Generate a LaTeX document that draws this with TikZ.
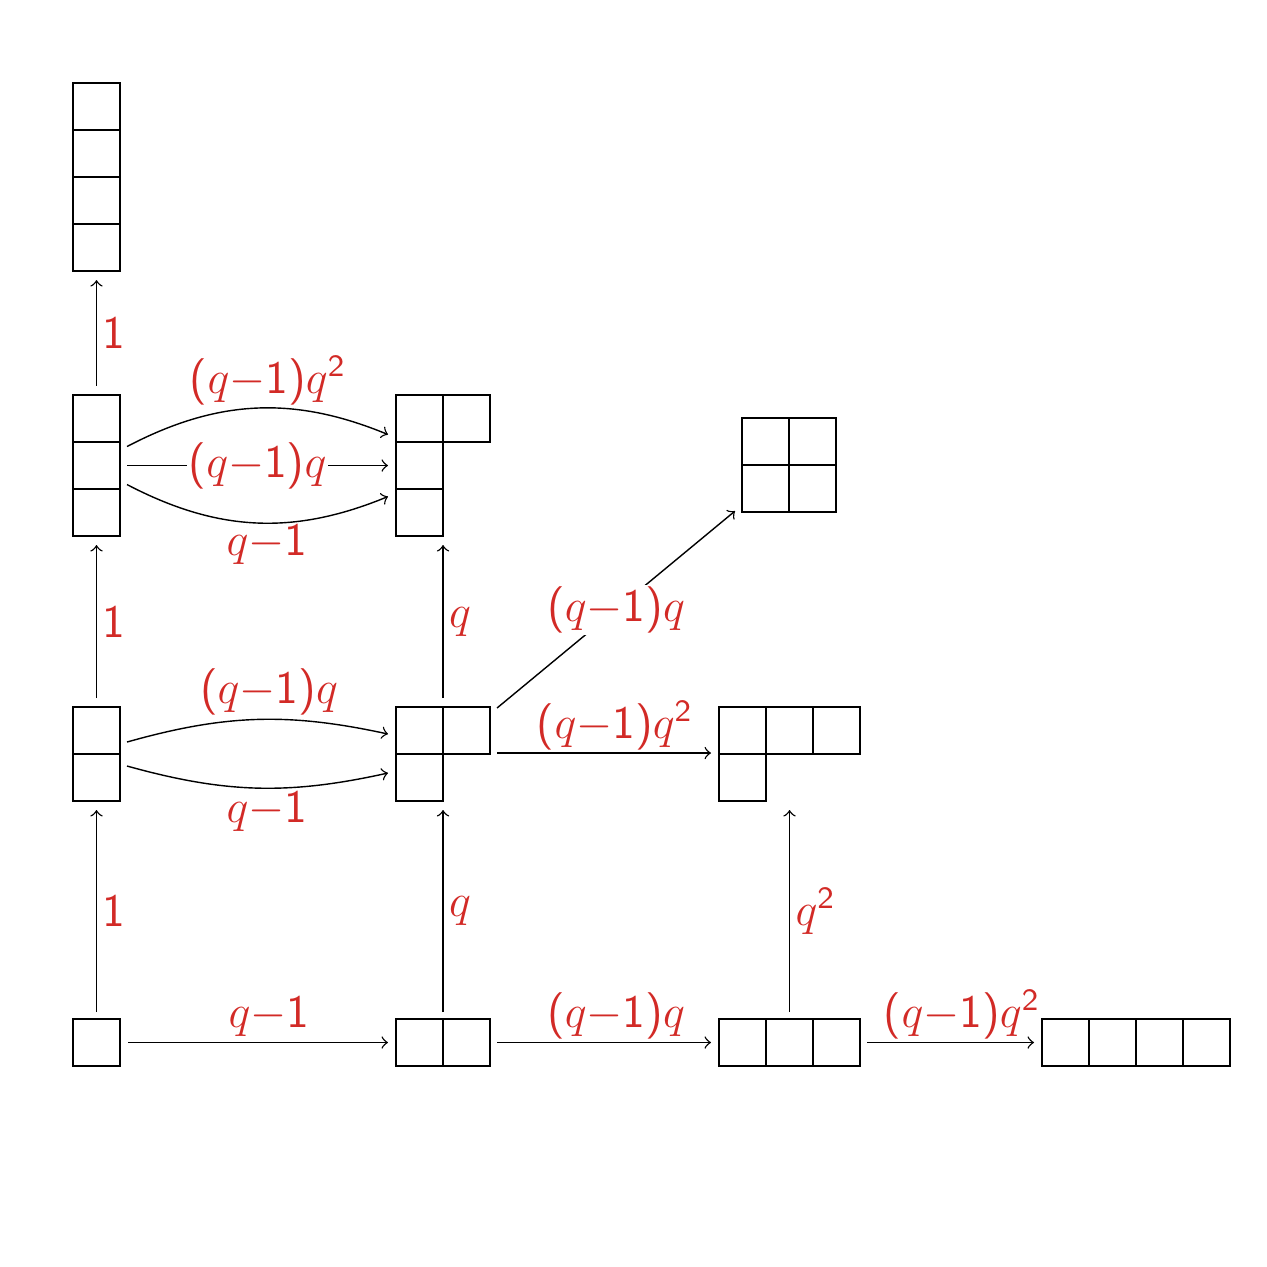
\documentclass[tikz,border=0pt]{standalone}
\usepackage{graphicx}
\usetikzlibrary{arrows}
\definecolor{lred}{RGB}{210,42,38}
\tikzset{
  ycell/.style={draw=black, line width=0.65pt},
  dgbox/.style={inner sep=0pt, outer sep=0pt, anchor=north west},
  arr/.style={->, line width=0.4pt},
  lbl/.style={text=lred, font=\large\sffamily, inner sep=1pt},
  vlab/.style={lbl, anchor=west, inner sep=1.5pt},
  onl/.style={lbl, fill=white, inner sep=0.5pt},
}
\newcommand\ydiag[6]{%
  \node[dgbox, minimum width=#4*0.47cm, minimum height=#5*0.47cm] (#1) at (#2,#3) {};
  \foreach \c/\r in {#6} \draw[ycell] ({#2+47*\c},{#3+47*\r}) rectangle ++(47,47);
}
\newcommand\lb[1]{\scalebox{1.1}{#1}}
\newcommand\lqa{\lb{($q{-}$1)$q^{\mathsf{2}}$}}
\newcommand\lqb{\lb{($q{-}$1)$q$}}
\newcommand\lqc{\lb{$q{-}$1}}
\begin{document}
\begin{tikzpicture}[x=0.01cm, y=-0.01cm]
\useasboundingbox (0,0) rectangle (1267,1267);
% diagrams
\ydiag{a1}{73}{1019}{1}{1}{0/0}
\ydiag{a2}{396}{1019}{2}{1}{0/0,1/0}
\ydiag{a3}{719}{1019}{3}{1}{0/0,1/0,2/0}
\ydiag{a4}{1042}{1019}{4}{1}{0/0,1/0,2/0,3/0}
\ydiag{b1}{73}{707}{1}{2}{0/0,0/1}
\ydiag{b2}{396}{707}{2}{2}{0/0,1/0,0/1}
\ydiag{b3}{719}{707}{3}{2}{0/0,1/0,2/0,0/1}
\ydiag{c1}{73}{395}{1}{3}{0/0,0/1,0/2}
\ydiag{c2}{396}{395}{2}{3}{0/0,1/0,0/1,0/2}
\ydiag{c3}{742}{418}{2}{2}{0/0,1/0,0/1,1/1}
\ydiag{d1}{73}{83}{1}{4}{0/0,0/1,0/2,0/3}
% vertical arrows
\draw[arr] ([shift={(0,-7)}]a1.north) -- ([shift={(0,9)}]b1.south) node[vlab, midway]{\lb{1}};
\draw[arr] ([shift={(0,-9)}]b1.north) -- ([shift={(0,9)}]c1.south) node[vlab, midway]{\lb{1}};
\draw[arr] ([shift={(0,-9)}]c1.north) -- ([shift={(0,9)}]d1.south) node[vlab, midway]{\lb{1}};
\draw[arr] ([shift={(0,-7)}]a2.north) -- ([shift={(0,9)}]b2.south) node[vlab, midway]{\lb{$q$}};
\draw[arr] ([shift={(0,-9)}]b2.north) -- ([shift={(0,9)}]c2.south) node[vlab, midway]{\lb{$q$}};
\draw[arr] ([shift={(0,-7)}]a3.north) -- ([shift={(0,9)}]b3.south) node[vlab, midway]{\lb{$q^{\mathsf{2}}$}};
% bottom row
\draw[arr] ([shift={(8,0)}]a1.east) -- ([shift={(-8,0)}]a2.west) node[lbl, pos=0.542, anchor=base, yshift=0.15cm]{\lqc};
\draw[arr] ([shift={(7,0)}]a2.east) -- ([shift={(-8,0)}]a3.west) node[lbl, pos=0.556, anchor=base, yshift=0.15cm]{\lqb};
\draw[arr] ([shift={(7,0)}]a3.east) -- ([shift={(-8,0)}]a4.west) node[lbl, pos=0.569, anchor=base, yshift=0.15cm]{\lqa};
% row 2
\draw[arr] ([shift={(7,-12)}]b1.east) to[bend left=14] node[lbl, anchor=base, xshift=0.12cm, yshift=0.16cm]{\lqb} ([shift={(-8,-20)}]b2.west);
\draw[arr] ([shift={(7,12)}]b1.east) to[bend right=14] node[lbl, anchor=base, xshift=0.1cm, yshift=-0.34cm]{\lqc} ([shift={(-8,19)}]b2.west);
\draw[arr] ([shift={(7,-1)}]b2.east) -- ([shift={(-8,-1)}]b3.west) node[lbl, pos=0.551, anchor=base, yshift=0.15cm]{\lqa};
\draw[arr] ([shift={(7,1)}]b2.north east) -- ([shift={(-7,-1)}]c3.south west) node[onl, midway]{\lqb};
% row 3
\draw[arr] ([shift={(7,-19)}]c1.east) to[bend left=25] node[lbl, anchor=base, xshift=0.12cm, yshift=0.15cm]{\lqa} ([shift={(-8,-31)}]c2.west);
\draw[arr] ([shift={(7,0)}]c1.east) -- ([shift={(-8,0)}]c2.west) node[onl, midway]{\lqb};
\draw[arr] ([shift={(7,19)}]c1.east) to[bend right=25] node[lbl, anchor=base, xshift=0.11cm, yshift=-0.33cm]{\lqc} ([shift={(-8,31)}]c2.west);
\end{tikzpicture}
\end{document}
